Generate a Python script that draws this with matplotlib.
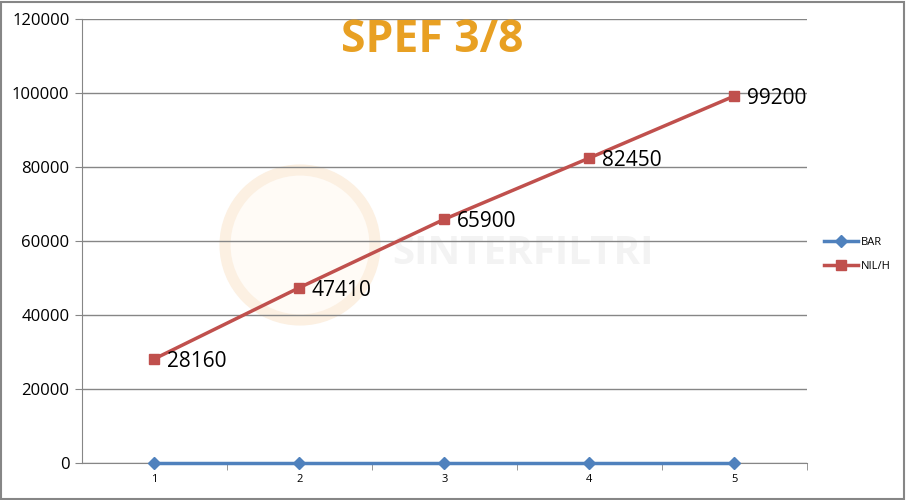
import matplotlib.pyplot as plt
from matplotlib.patches import Rectangle, Ellipse

categories = [1, 2, 3, 4, 5]
bar_values = [0, 0, 0, 0, 0]
nilh_values = [28160, 47410, 65900, 82450, 99200]
y_ticks = [0, 20000, 40000, 60000, 80000, 100000, 120000]

plt.rcParams['font.family'] = ['Open Sans', 'DejaVu Sans']

fig = plt.figure(figsize=(9.06, 5.0), dpi=100)

# faint watermark (behind the axes)
fig.patches.append(Ellipse((300 / 906, 1 - 245 / 500), 150 / 906, 150 / 500,
                           transform=fig.transFigure, facecolor='#FFFBF6',
                           edgecolor='#FCF0E2', linewidth=8, zorder=0))
fig.text(0.577, 0.493, 'SINTERFILTRI', fontsize=29, fontweight='bold',
         color='#F3F3F3', ha='center', va='center', zorder=0)

ax = fig.add_axes([0.0905, 0.074, 0.8002, 0.888], zorder=1)

ax.plot(categories, bar_values, color='#4F81BD', linewidth=2.5, marker='D',
        markersize=6, label='BAR', zorder=3, clip_on=False)
ax.plot(categories, nilh_values, color='#C0504D', linewidth=2.5, marker='s',
        markersize=7, label='NIL/H', zorder=3)

for x, v in zip(categories, nilh_values):
    ax.annotate(str(v), (x, v), xytext=(9, -2), textcoords='offset points',
                fontsize=15, ha='left', va='center', color='black')

ax.set_xlim(0.5, 5.5)
ax.set_ylim(0, 120000)
ax.set_yticks(y_ticks)
ax.set_yticklabels([str(t) for t in y_ticks], fontsize=12)
ax.set_xticks(categories)
ax.set_xticklabels([str(c) for c in categories], fontsize=8)
ax.set_xticks([1.5, 2.5, 3.5, 4.5, 5.5], minor=True)
ax.tick_params(axis='x', which='major', length=0, pad=8)
ax.tick_params(axis='x', which='minor', length=5, color='#868686')
ax.tick_params(axis='y', length=5, color='#868686', pad=4)
ax.grid(axis='y', color='#868686', linewidth=1)
ax.set_axisbelow(True)
ax.patch.set_alpha(0)
for s in ['top', 'right']:
    ax.spines[s].set_visible(False)
for s in ['left', 'bottom']:
    ax.spines[s].set_color('#868686')

fig.text(0.477, 0.92, 'SPEF 3/8', fontsize=32, fontweight='bold',
         color='#E8A023', ha='center', va='center')

ax.legend(loc='center left', bbox_to_anchor=(1.01, 0.47), frameon=False,
          fontsize=8, handlelength=3, labelspacing=1.2, handletextpad=0.3)

fig.patches.append(Rectangle((0.001, 0.002), 0.997, 0.995, transform=fig.transFigure,
                             fill=False, edgecolor='#868686', linewidth=1.5))

fig.savefig('out.png', dpi=100)
